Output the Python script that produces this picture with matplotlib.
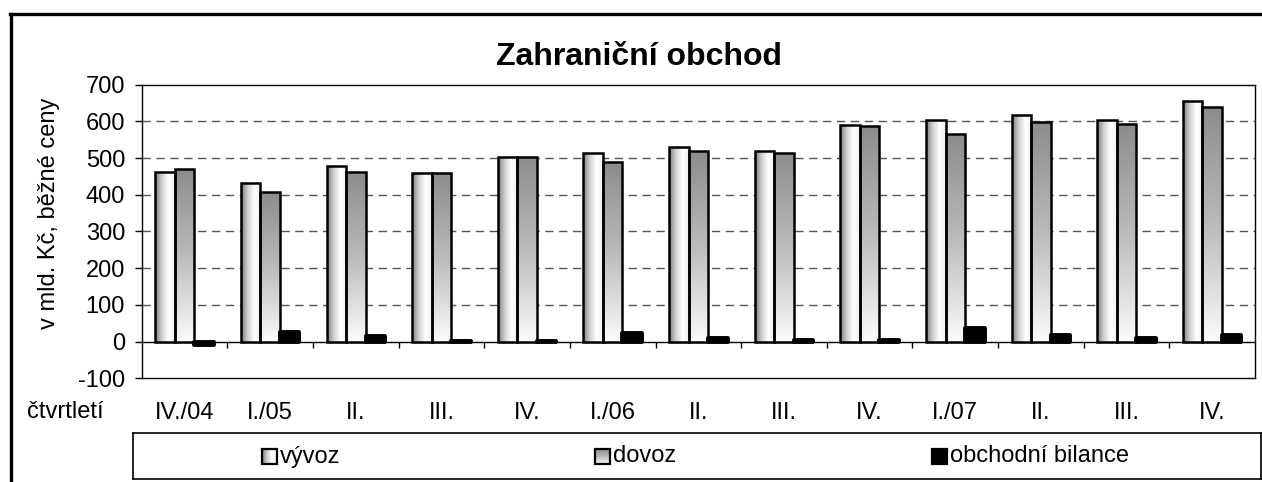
import numpy as np
import matplotlib.pyplot as plt
from matplotlib.colors import LinearSegmentedColormap
from matplotlib.patches import Rectangle
from matplotlib.lines import Line2D

plt.rcParams['font.family'] = ['Liberation Sans', 'DejaVu Sans']
plt.rcParams['axes.unicode_minus'] = False

# Data (mld. Kc, bezne ceny)
quarters = ['IV./04', 'I./05', 'II.', 'III.', 'IV.', 'I./06', 'II.', 'III.',
            'IV.', 'I./07', 'II.', 'III.', 'IV.']
export_vals = [462, 432, 478, 459, 504, 513, 529, 518, 590, 603, 617, 604, 656]
import_vals = [471, 407, 463, 458, 503, 489, 520, 515, 587, 565, 598, 593, 638]
balance_vals = [-9, 25, 15, 1, 1, 24, 9, 3, 3, 38, 19, 11, 18]
series_names = ['vývoz', 'dovoz', 'obchodní bilance']

W, H = 1262, 482
FS = 17
fig = plt.figure(figsize=(W / 100, H / 100), dpi=100)
ax = fig.add_axes([141.7 / W, 1 - 378.3 / H, (1255 - 141.7) / W, (378.3 - 84.6) / H])

# gradient colormaps
cmap_exp = LinearSegmentedColormap.from_list('exp', ['#7a7a7a', '#cfcfcf', '#ffffff', '#f0f0f0'])
cmap_imp = LinearSegmentedColormap.from_list('imp', ['#8c8c8c', '#bbbbbb', '#fbfbfb'])
grad_h = np.linspace(0, 1, 256).reshape(1, -1)
grad_v = np.linspace(0, 1, 256).reshape(-1, 1)

x = np.arange(len(quarters))
bw = 0.228

bars_exp = ax.bar(x - bw, export_vals, bw, facecolor='none', edgecolor='black', linewidth=1.8, zorder=3)
bars_imp = ax.bar(x, import_vals, bw, facecolor='none', edgecolor='black', linewidth=1.8, zorder=3)
bars_bal = ax.bar(x + bw, balance_vals, bw, color='black', edgecolor='black', linewidth=2.8,
                  joinstyle='round', zorder=3)


def fill_gradient(bars, grad, cmap):
    # paint a gradient image inside every bar
    for b in bars:
        x0, y0 = b.get_x(), b.get_y()
        x1, y1 = x0 + b.get_width(), y0 + b.get_height()
        im = ax.imshow(grad, extent=[x0, x1, y0, y1], origin='upper', cmap=cmap,
                       aspect='auto', interpolation='bilinear', zorder=2)
        im.set_clip_path(b)


fill_gradient(bars_exp, grad_h, cmap_exp)
fill_gradient(bars_imp, grad_v, cmap_imp)

ax.set_xlim(-0.5, len(quarters) - 0.5)
ax.set_ylim(-100, 700)
ax.set_yticks(range(-100, 701, 100))
ax.tick_params(axis='y', labelsize=FS, length=5, width=1, direction='out', pad=7)
ax.set_xticks(x)
ax.set_xticklabels(quarters)
ax.tick_params(axis='x', labelsize=FS, length=0, pad=17)

# dashed grid lines
for v in range(100, 700, 100):
    ax.axhline(v, color='#555555', linewidth=1, dashes=(6, 4), zorder=1)

for s in ax.spines.values():
    s.set_linewidth(1)
    s.set_color('black')

# zero line with category separators
sec = ax.secondary_xaxis(100 / 800)
sec.set_xticks(np.arange(0.5, len(quarters) - 1, 1))
sec.set_xticklabels([])
sec.tick_params(length=4.5, width=1, direction='out')
sec.spines['bottom'].set_linewidth(1)

# texts
fig.text(639 / W, 1 - 57 / H, 'Zahraniční obchod', ha='center', va='center',
         fontsize=23, fontweight='bold')
fig.text(49 / W, 1 - 213 / H, 'v mld. Kč, běžné ceny', rotation=90,
         ha='center', va='center', fontsize=FS)
fig.text(27 / W, 1 - 412 / H, 'čtvrtletí', ha='left', va='center', fontsize=FS)

# legend box
lax = fig.add_axes([133 / W, 1 - 479 / H, (1261 - 133) / W, 46 / H])
lax.set_xticks([])
lax.set_yticks([])
for s in lax.spines.values():
    s.set_linewidth(1.2)
    s.set_color('black')

legend_x = [262, 595, 932]
for i, name in enumerate(series_names):
    lx = legend_x[i]
    r = Rectangle((lx, 449), 15, 15, facecolor='none' if i < 2 else 'black',
                  edgecolor='black', linewidth=1.6, zorder=3)
    lax.add_patch(r)
    if i == 0:
        im = lax.imshow(grad_h, extent=[lx, lx + 15, 464, 449], cmap=cmap_exp,
                        aspect='auto', zorder=2)
        im.set_clip_path(r)
    elif i == 1:
        im = lax.imshow(grad_v, extent=[lx, lx + 15, 464, 449], cmap=cmap_imp,
                        aspect='auto', origin='upper', zorder=2)
        im.set_clip_path(r)
    lax.text(lx + 18, 456.5, name, va='center', ha='left', fontsize=FS)
lax.set_xlim(133, 1261)
lax.set_ylim(479, 433)

# outer frame (top and left edges visible)
fig.add_artist(Line2D([10 / W, 1], [1 - 13.5 / H, 1 - 13.5 / H], color='black', linewidth=2.4))
fig.add_artist(Line2D([10.5 / W, 10.5 / W], [0, 1 - 13.5 / H], color='black', linewidth=2.4))

fig.savefig('out.png', dpi=100)
